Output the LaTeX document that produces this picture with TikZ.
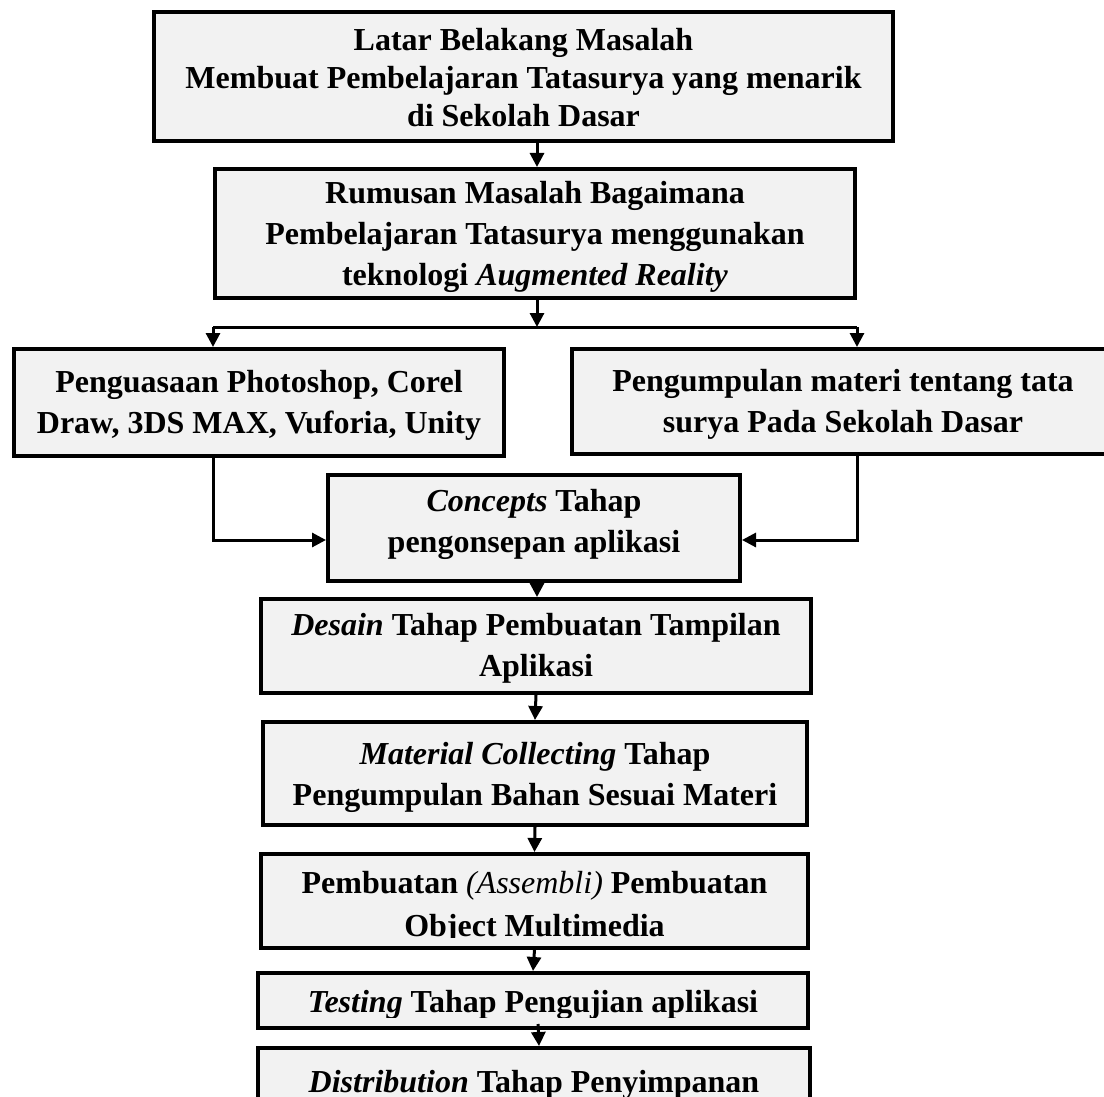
\documentclass[tikz,border=0pt]{standalone}
\usepackage{fontspec}
\setmainfont{Liberation Serif}
\usetikzlibrary{arrows.meta}
\definecolor{boxgray}{HTML}{F2F2F2}
\begin{document}
\begin{tikzpicture}[x=1pt,y=-1pt,
  box/.style={draw=black, line width=4pt, fill=boxgray, inner sep=0pt},
  txt/.style={align=center, font=\fontsize{32}{41}\selectfont\bfseries, inner sep=0pt},
  conn/.style={line width=3pt, -{Triangle[width=14pt,length=14pt]}},
  wire/.style={line width=3pt}
]
\useasboundingbox (0,0) rectangle (1104,1097);
\clip (0,0) rectangle (1104,1097);

% boxes
\node[box, minimum width=739, minimum height=129] (b1) at (523.5,76.5) {};
\node[txt, font=\fontsize{32}{38}\selectfont\bfseries] (t1) at (523.5,78)
  {Latar Belakang Masalah\\Membuat Pembelajaran Tatasurya yang menarik\\di Sekolah Dasar};
\node[box, minimum width=640, minimum height=129] (b2) at (535,233.5) {};
\node[txt] (t2) at (535,237)
  {Rumusan Masalah Bagaimana\\Pembelajaran Tatasurya menggunakan\\teknologi \textit{Augmented Reality}};
\node[box, minimum width=490, minimum height=107] (b3l) at (259,402.5) {};
\node[txt] (t3l) at (259,405)
  {Penguasaan Photoshop, Corel\\Draw, 3DS MAX, Vuforia, Unity};
\node[box, minimum width=540, minimum height=105] (b3r) at (842,401.5) {};
\node[txt] (t3r) at (843,404) {Pengumpulan materi tentang tata\\surya Pada Sekolah Dasar};
\node[box, minimum width=412, minimum height=106] (b4) at (534,528) {};
\node[txt] (t4) at (534,524) {\textit{Concepts} Tahap\\pengonsepan aplikasi};
\node[box, minimum width=550, minimum height=94] (b5) at (536,646) {};
\node[txt] (t5) at (536,648) {\textit{Desain} Tahap Pembuatan Tampilan\\Aplikasi};
\node[box, minimum width=544, minimum height=103] (b6) at (535,773.5) {};
\node[txt] (t6) at (535,777) {\textit{Material Collecting} Tahap\\Pengumpulan Bahan Sesuai Materi};
\node[box, minimum width=547, minimum height=94] (b7) at (534.5,901) {};
\node[box, minimum width=550, minimum height=55] (b8) at (533,1000.5) {};
\node[box, minimum width=552, minimum height=100] (b9) at (534,1098) {};

\begin{scope}
  \clip (258,854) rectangle (808,937);
  \node[txt, anchor=base] (t7a) at (534.5,893) {Pembuatan \textmd{\textit{(Assembli)}} Pembuatan};
  \node[txt, anchor=base] (t7b) at (534.5,936) {Object Multimedia};
\end{scope}
\begin{scope}
  \clip (258,973) rectangle (808,1017);
  \node[txt, anchor=base] (t8) at (533,1012) {\textit{Testing} Tahap Pengujian aplikasi};
\end{scope}
\node[txt, anchor=base] (t9) at (534,1092) {\textit{Distribution} Tahap Penyimpanan};

% connectors
\coordinate (jl) at (213,327);
\coordinate (jr) at (857,327);
\coordinate (jm) at (537,327);
\coordinate (kl) at (213,540);
\coordinate (kr) at (857,540);

\draw[conn] (jm |- b1.south) -- (jm |- b2.north);
\draw[conn] (jm |- b2.south) -- (jm);
\draw[wire] (jl) -- (jr);
\draw[conn] (jl) -- (jl |- b3l.north);
\draw[conn] (jr) -- (jr |- b3r.north);
\draw[conn] (jl |- b3l.south) -- (kl) -- (kl -| b4.west);
\draw[conn] (jr |- b3r.south) -- (kr) -- (kr -| b4.east);
\draw[conn] (jm |- b4.south) -- (jm |- b5.north);
\draw[conn] (b5.south) -- (b6.north);
\draw[conn] (b6.south) -- (b7.north);
\draw[conn] (b7.south) -- (b8.north);
\draw[conn] ([xshift=5pt,yshift=6pt]b8.south) -- ([xshift=5pt]b9.north);
\end{tikzpicture}
\end{document}
